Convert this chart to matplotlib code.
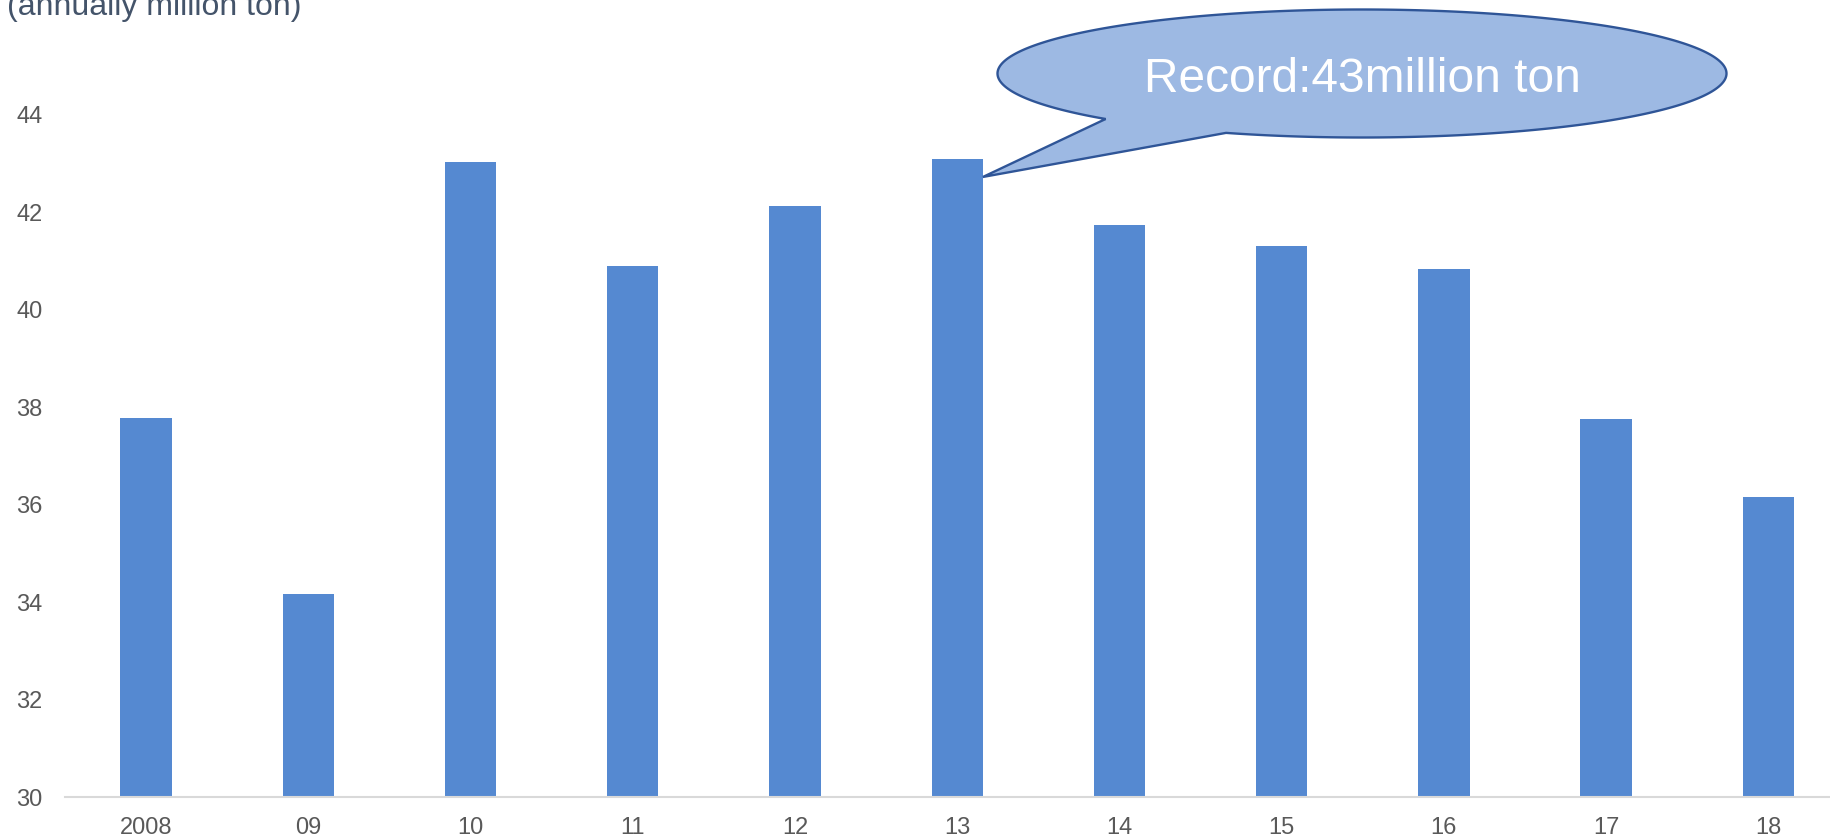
import numpy as np
import matplotlib
matplotlib.use("Agg")
import matplotlib.pyplot as plt
from matplotlib.patches import Polygon

# ---- data ----
years = ["2008", "09", "10", "11", "12", "13", "14", "15", "16", "17", "18"]
values = [37.78, 34.16, 43.02, 40.89, 42.13, 43.09, 41.73, 41.30, 40.84, 37.75, 36.15]
y_ticks = [30, 32, 34, 36, 38, 40, 42, 44]
unit_label = "(annually million ton)"
callout_text = "Record:43million ton"
record_index = 5

W, H = 1830, 838
plt.rcParams['font.family'] = ['Liberation Sans', 'DejaVu Sans']
fig = plt.figure(figsize=(W / 100, H / 100), dpi=100)
ax = fig.add_axes([65 / W, 41 / H, 1 - 65 / W, 1 - 41 / H])

x = np.arange(len(years))
bar_w = 0.317
ax.bar(x, values, width=bar_w, color='#5589D1', zorder=2)

ax.set_xlim(-0.5, 10.38)
ax.set_ylim(30, 46.35)
ax.set_yticks(y_ticks)
ax.set_yticklabels([str(t) for t in y_ticks])
ax.set_xticks(x)
ax.set_xticklabels(years)
for s in ['top', 'right', 'left']:
    ax.spines[s].set_visible(False)
ax.spines['bottom'].set_color('#D9D9D9')
ax.spines['bottom'].set_linewidth(1.5)
ax.tick_params(axis='both', length=0, labelsize=17, colors='#595959')
ax.tick_params(axis='y', pad=16)
ax.tick_params(axis='x', pad=14.5)

fig.text(7 / W, 1 - 15 / H, unit_label, fontsize=23, color='#44546A',
         ha='left', va='baseline')

# ---- callout (speech bubble) ----
fig.canvas.draw()
tip_disp = ax.transData.transform((x[record_index] + bar_w / 2, values[record_index] - 0.37))
tip_px = (tip_disp[0], H - tip_disp[1])  # y-down pixel coords

cx, cy, a, b = 1362.0, 73.5, 364.5, 64.0
t1 = np.deg2rad(111.9)
t2 = np.deg2rad(134.7)
ts = np.linspace(t2, t1 + 2 * np.pi, 400)
pts = [(cx + a * np.cos(t), cy + b * np.sin(t)) for t in ts]
pts.append(tip_px)
pts_fig = [(px / W, 1 - py / H) for px, py in pts]
bubble = Polygon(pts_fig, closed=True, transform=fig.transFigure,
                 facecolor='#9DB9E3', edgecolor='#2F5597', linewidth=1.7,
                 zorder=5)
fig.patches.append(bubble)
fig.text(1362.5 / W, 1 - 92 / H, callout_text, fontsize=34.5, color='white',
         ha='center', va='baseline', zorder=6)

fig.savefig('out.png', dpi=100)
